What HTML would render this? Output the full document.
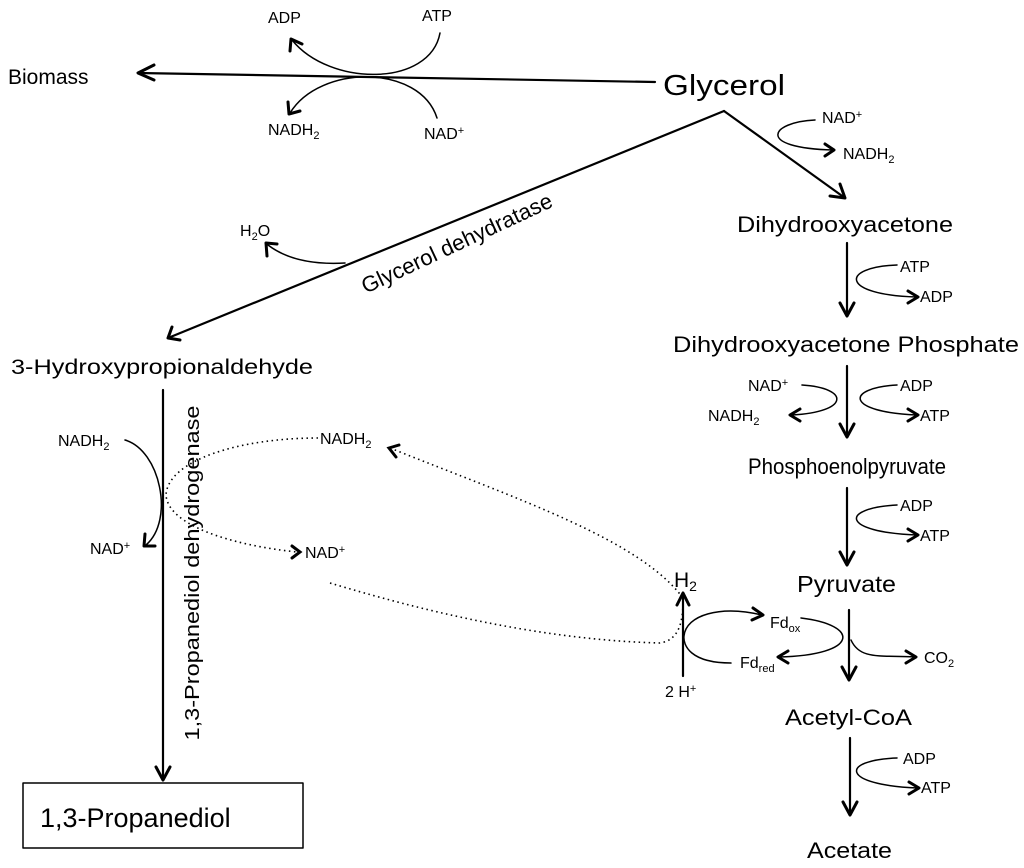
<!DOCTYPE html>
<html><head><meta charset="utf-8"><style>
html,body{margin:0;padding:0;background:#fff;}
svg{display:block;}
text{font-family:"Liberation Sans",sans-serif;fill:#000;}
</style></head><body>
<svg width="1024" height="868" viewBox="0 0 1024 868" xmlns="http://www.w3.org/2000/svg">
<g fill="none" stroke="#000" stroke-width="2.2" stroke-linecap="round" stroke-linejoin="round">
<line x1="655" y1="82" x2="138" y2="73"/>
<polyline points="154,65 138,73 154,80" stroke-width="3"/>
<path d="M440,33 C430,87 330,87 292,40" stroke-width="1.5"/>
<polyline points="290,51 291,39 302,44" stroke-width="3"/>
<path d="M437,118 C420,64 320,64 290,113" stroke-width="1.5"/>
<polyline points="288,102 289,114 300,111" stroke-width="3"/>
<line x1="724" y1="111" x2="168" y2="338"/>
<polyline points="172,327 168,338 180,340" stroke-width="3"/>
<line x1="724" y1="111" x2="845" y2="198"/>
<polyline points="830,196 845,198 840,184" stroke-width="3"/>
<path d="M345,263 C310,265 285,258 268,245" stroke-width="1.5"/>
<polyline points="267,256 266,243 277,244" stroke-width="3"/>
<path d="M815,120 C770,122 755,148 833,150" stroke-width="1.5"/>
<polyline points="825,144 834,150 825,156" stroke-width="3"/>
<line x1="847" y1="243" x2="847" y2="316"/>
<polyline points="840,303 847,316 854,303" stroke-width="3"/>
<path d="M897,265 C840,267 840,295 917,297" stroke-width="1.5"/>
<polyline points="908,291 918,297 908,303" stroke-width="3"/>
<line x1="847" y1="366" x2="847" y2="437"/>
<polyline points="840,424 847,437 854,424" stroke-width="3"/>
<path d="M802,385 C850,388 850,412 792,415" stroke-width="1.5"/>
<path d="M897,385 C845,388 845,412 917,415" stroke-width="1.5"/>
<polyline points="800,409 790,415 800,421" stroke-width="3"/>
<polyline points="908,409 918,415 908,421" stroke-width="3"/>
<line x1="847" y1="488" x2="847" y2="565"/>
<polyline points="840,552 847,565 854,552" stroke-width="3"/>
<path d="M897,505 C840,508 840,532 917,535" stroke-width="1.5"/>
<polyline points="908,529 918,535 908,541" stroke-width="3"/>
<line x1="849" y1="610" x2="849" y2="680"/>
<polyline points="842,667 849,680 856,667" stroke-width="3"/>
<path d="M801,618 C860,625 860,655 779,657" stroke-width="1.5"/>
<path d="M851,640 C860,660 880,655 915,657" stroke-width="1.5"/>
<polyline points="906,651 916,657 906,663" stroke-width="3"/>
<polyline points="788,651 778,657 788,663" stroke-width="3"/>
<path d="M731,663 C690,663 683,645 684,636 C686,615 720,605 762,615" stroke-width="1.5"/>
<polyline points="753,608 763,615 752,620" stroke-width="3"/>
<line x1="683" y1="676" x2="683" y2="593"/>
<polyline points="677,605 683,593 689,605" stroke-width="3"/>
<line x1="850" y1="738" x2="850" y2="815"/>
<polyline points="843,802 850,815 857,802" stroke-width="3"/>
<path d="M897,758 C840,760 840,785 918,788" stroke-width="1.5"/>
<polyline points="909,782 919,788 909,794" stroke-width="3"/>
<line x1="163" y1="390" x2="163" y2="780"/>
<polyline points="156,767 163,780 170,767" stroke-width="3"/>
<path d="M125,440 C160,450 175,520 146,545" stroke-width="1.5"/>
<polyline points="145,534 144,546 155,546" stroke-width="3"/>
<rect x="23" y="783" width="280" height="65" stroke-width="1.5"/>
</g>
<g fill="none" stroke="#000" stroke-width="1.6" stroke-dasharray="1.5,3.5">
<path d="M318,438 C240,438 168,460 166,495 C168,525 230,545 297,552"/>
<path d="M390,448 C520,500 640,540 683,598"/>
<path d="M330,583 C420,610 540,640 660,643 C680,640 683,620 683,600"/>
</g>
<g fill="none" stroke="#000" stroke-width="3" stroke-linecap="round">
<polyline points="399,445 389,448 396,457"/>
<polyline points="292,546 300,552 292,558"/>
</g>
<text x="8" y="84" font-size="21">Biomass</text>
<text x="268" y="23" font-size="16">ADP</text>
<text x="422" y="21" font-size="16">ATP</text>
<text x="268" y="135" font-size="16">NADH<tspan font-size="11" dy="4">2</tspan></text>
<text x="424" y="139" font-size="16">NAD<tspan font-size="11" dy="-5">+</tspan></text>
<text x="663" y="95" font-size="29" textLength="122" lengthAdjust="spacingAndGlyphs">Glycerol</text>
<text x="822" y="123" font-size="16">NAD<tspan font-size="11" dy="-5">+</tspan></text>
<text x="843" y="159" font-size="16">NADH<tspan font-size="11" dy="4">2</tspan></text>
<text x="460" y="250" font-size="22" text-anchor="middle" transform="rotate(-25 460 250)">Glycerol dehydratase</text>
<text x="240" y="236" font-size="16">H<tspan font-size="11" dy="4">2</tspan><tspan dy="-4">O</tspan></text>
<g font-size="22">
<text x="737" y="232" textLength="216" lengthAdjust="spacingAndGlyphs">Dihydrooxyacetone</text>
<text x="673" y="352" textLength="346" lengthAdjust="spacingAndGlyphs">Dihydrooxyacetone Phosphate</text>
<text x="748" y="474" textLength="198" lengthAdjust="spacingAndGlyphs">Phosphoenolpyruvate</text>
<text x="797" y="592" font-size="23" textLength="99" lengthAdjust="spacingAndGlyphs">Pyruvate</text>
<text x="785" y="725" textLength="127" lengthAdjust="spacingAndGlyphs">Acetyl-CoA</text>
<text x="807" y="858" textLength="85" lengthAdjust="spacingAndGlyphs">Acetate</text>
</g>
<text x="900" y="272" font-size="16">ATP</text>
<text x="920" y="302" font-size="16">ADP</text>
<text x="748" y="391" font-size="16">NAD<tspan font-size="11" dy="-5">+</tspan></text>
<text x="708" y="421" font-size="16">NADH<tspan font-size="11" dy="4">2</tspan></text>
<text x="900" y="391" font-size="16">ADP</text>
<text x="920" y="421" font-size="16">ATP</text>
<text x="900" y="511" font-size="16">ADP</text>
<text x="920" y="541" font-size="16">ATP</text>
<text x="770" y="628" font-size="16">Fd<tspan font-size="11" dy="4">ox</tspan></text>
<text x="740" y="668" font-size="16">Fd<tspan font-size="11" dy="4">red</tspan></text>
<text x="924" y="663" font-size="16">CO<tspan font-size="11" dy="4">2</tspan></text>
<text x="674" y="587" font-size="21">H<tspan font-size="14" dy="4">2</tspan></text>
<text x="665" y="697" font-size="16">2 H<tspan font-size="11" dy="-5">+</tspan></text>
<text x="903" y="764" font-size="16">ADP</text>
<text x="921" y="793" font-size="16">ATP</text>
<text x="11" y="374" font-size="21" textLength="302" lengthAdjust="spacingAndGlyphs">3-Hydroxypropionaldehyde</text>
<text x="199" y="573" font-size="20" text-anchor="middle" textLength="335" lengthAdjust="spacingAndGlyphs" transform="rotate(-90 199 573)">1,3-Propanediol dehydrogenase</text>
<text x="58" y="446" font-size="16">NADH<tspan font-size="11" dy="4">2</tspan></text>
<text x="90" y="554" font-size="16">NAD<tspan font-size="11" dy="-5">+</tspan></text>
<text x="320" y="444" font-size="16">NADH<tspan font-size="11" dy="4">2</tspan></text>
<text x="305" y="558" font-size="16">NAD<tspan font-size="11" dy="-5">+</tspan></text>
<text x="40" y="827" font-size="27">1,3-Propanediol</text>
</svg>
</body></html>
